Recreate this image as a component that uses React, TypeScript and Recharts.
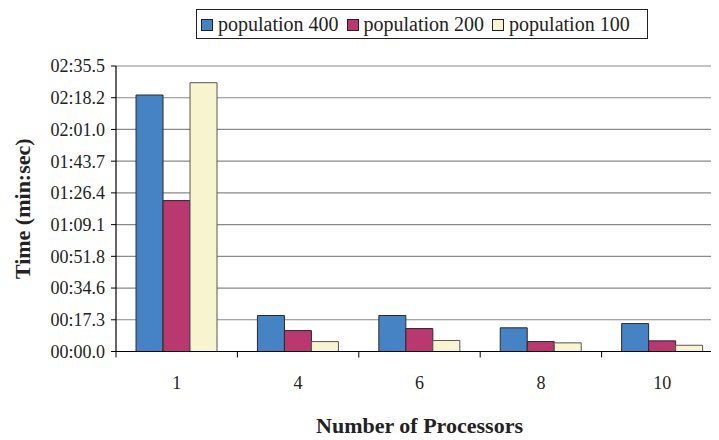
import React from 'react';
import { BarChart, Bar, XAxis, YAxis, CartesianGrid, Legend } from 'recharts';

// Processor counts on the category axis
const processors = ['1', '4', '6', '8', '10'];

// Run times in seconds per population size
const pop400 = [139.7, 19.6, 19.6, 12.9, 15.2];
const pop200 = [82.2, 11.4, 12.5, 5.4, 5.8];
const pop100 = [146.4, 5.4, 6.0, 4.7, 3.4];

// Value-axis ticks (seconds) and their min:sec labels
const timeTicks = [0, 17.28, 34.56, 51.83, 69.11, 86.39, 103.67, 120.94, 138.22, 155.5];
const timeLabels = [
  '00:00.0', '00:17.3', '00:34.6', '00:51.8', '01:09.1',
  '01:26.4', '01:43.7', '02:01.0', '02:18.2', '02:35.5',
];

const seriesNames = ['population 400', 'population 200', 'population 100'];
const seriesColors = ['#4683C4', '#B8386F', '#F9F4D0'];

const data = processors.map((p, i) => ({
  processors: p,
  pop400: pop400[i],
  pop200: pop200[i],
  pop100: pop100[i],
}));

const FONT = '"Liberation Serif", "Times New Roman", Times, serif';
const X_TICK_SIZE = 6;
const X_TICK_MARGIN = 19;

// Category tick: label at the band centre, tick mark at the band boundary
const CategoryTick = (props: any) => {
  const { x, y, payload } = props;
  const off = payload?.offset ?? 0;
  const axisY = y - X_TICK_SIZE - X_TICK_MARGIN;
  return (
    <g>
      <line x1={x - off} x2={x - off} y1={axisY} y2={axisY + X_TICK_SIZE} stroke="#000" strokeWidth={1} />
      <text x={x} y={y} dy="0.71em" textAnchor="middle" fontFamily={FONT} fontSize={18} fill="#222">
        {payload.value}
      </text>
    </g>
  );
};

const LegendBox = () => (
  <div
    style={{
      border: '1px solid #222',
      height: 28,
      width: 446,
      boxSizing: 'content-box',
      fontFamily: FONT,
      fontSize: 20,
      color: '#222',
      whiteSpace: 'nowrap',
      lineHeight: '28px',
      paddingLeft: 4,
      overflow: 'hidden',
    }}
  >
    {seriesNames.map((name, i) => (
      <span key={name} style={{ marginRight: i < seriesNames.length - 1 ? 8 : 0 }}>
        <span
          style={{
            display: 'inline-block',
            width: 10,
            height: 10,
            border: '1px solid #222',
            background: seriesColors[i],
            marginRight: 5,
            verticalAlign: 'baseline',
          }}
        />
        {name}
      </span>
    ))}
  </div>
);

export default function App() {
  return (
    <div style={{ width: 711, height: 432, overflow: 'hidden' }}>
      <BarChart
        width={730}
        height={432}
        data={data}
        margin={{ top: 58, right: 15, left: 0, bottom: 0 }}
        barCategoryGap="16.5%"
        barGap={0}
      >
        <CartesianGrid vertical={false} stroke="#8a8a8a" strokeWidth={1.2} />
        <XAxis
          dataKey="processors"
          height={88.5}
          axisLine={{ stroke: '#000', strokeWidth: 1.2 }}
          tickLine={false}
          tickSize={X_TICK_SIZE}
          tickMargin={X_TICK_MARGIN}
          tick={<CategoryTick />}
          interval={0}
          label={{
            content: (p: any) => {
              const vb = p.viewBox;
              return (
                <text
                  x={vb.x + vb.width / 2}
                  y={vb.y + 81}
                  textAnchor="middle"
                  fontFamily={FONT}
                  fontSize={22}
                  fontWeight="bold"
                  fill="#222"
                >
                  Number of Processors
                </text>
              );
            },
          }}
        />
        <YAxis
          width={108}
          domain={[0, 155.5]}
          ticks={timeTicks}
          interval={0}
          tickFormatter={(v: number) => timeLabels[timeTicks.indexOf(v)] ?? ''}
          tick={{ fontFamily: FONT, fontSize: 18, fill: '#222' }}
          tickSize={5}
          tickMargin={6}
          axisLine={{ stroke: '#000', strokeWidth: 1.2 }}
          tickLine={{ stroke: '#000' }}
          label={{
            content: (p: any) => {
              const vb = p.viewBox;
              const cx = vb.x + 14;
              const cy = vb.y + vb.height / 2;
              return (
                <text
                  x={cx}
                  y={cy}
                  transform={`rotate(-90, ${cx}, ${cy})`}
                  textAnchor="middle"
                  dominantBaseline="central"
                  fontFamily={FONT}
                  fontSize={22}
                  fontWeight="bold"
                  fill="#222"
                >
                  Time (min:sec)
                </text>
              );
            },
          }}
        />
        <Legend
          layout="horizontal"
          verticalAlign="middle"
          align="center"
          content={() => <LegendBox />}
          wrapperStyle={{ position: 'absolute', top: 1, left: 188, width: 'auto' }}
        />
        <Bar dataKey="pop400" name={seriesNames[0]} fill={seriesColors[0]} stroke="#2a2a2a" strokeWidth={1} isAnimationActive={false} />
        <Bar dataKey="pop200" name={seriesNames[1]} fill={seriesColors[1]} stroke="#2a2a2a" strokeWidth={1} isAnimationActive={false} />
        <Bar dataKey="pop100" name={seriesNames[2]} fill={seriesColors[2]} stroke="#555" strokeWidth={1} isAnimationActive={false} />
      </BarChart>
    </div>
  );
}
